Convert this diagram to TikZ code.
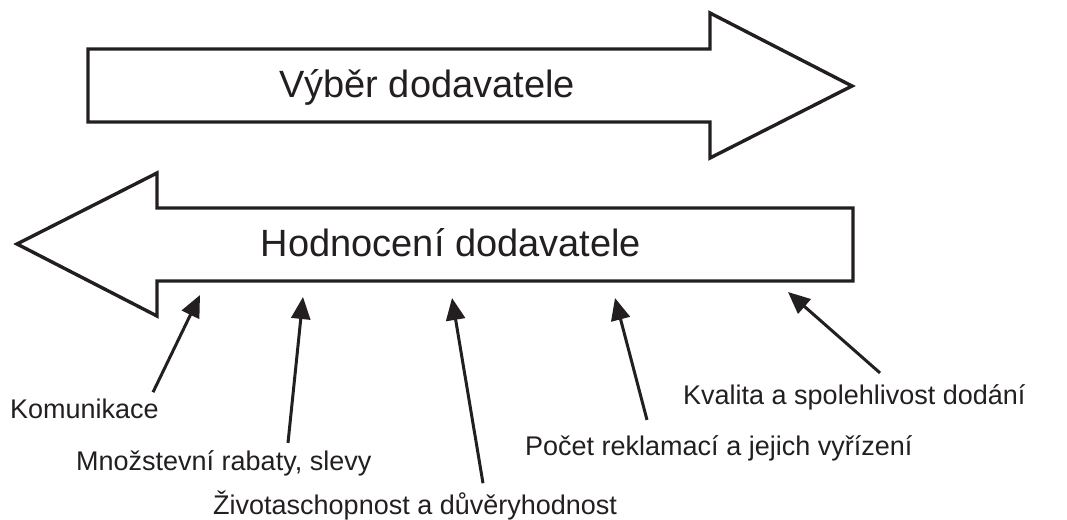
\documentclass[tikz,border=0pt]{standalone}
\usepackage{fontspec}
\setmainfont{Liberation Sans}
\usepackage{xcolor}
\usepackage{tikz}
\usetikzlibrary{arrows.meta,calc,positioning}
\definecolor{ink}{HTML}{231F20}

\begin{document}
\begin{tikzpicture}[x=1pt,y=-1pt,
    bigarrow/.style={draw=ink,line width=3.4pt,fill=white,line join=miter},
    title/.style={text=ink,font=\fontsize{38}{44}\selectfont,inner sep=0pt,anchor=base},
    factor/.style={text=ink,font=\fontsize{27}{32}\selectfont,inner sep=0pt,anchor=base west},
    pointer/.style={draw=ink,line width=3pt,-{Triangle[length=22pt,width=19pt]}}]
            \useasboundingbox (0,0) rectangle (1067,519);

            % Selection arrow
            \draw[bigarrow] (88,49) -- (710,49) -- (710,13) -- (852,86) -- (710,158) -- (710,122) -- (88,122) -- cycle;
            \node[title] (vyber) at (427,97) {Výběr dodavatele};

            % Evaluation arrow
            \draw[bigarrow] (853,208) -- (157,208) -- (157,173) -- (17,244) -- (157,316) -- (157,281) -- (853,281) -- cycle;
            \node[title] (hodn) at (451,256) {Hodnocení dodavatele};

            % Criteria
            \node[factor] (kom) at (10,418) {Komunikace};
            \node[factor] (mno) at (76,470) {Množstevní rabaty, slevy};
            \node[factor] (ziv) at (213,514) {Životaschopnost a důvěryhodnost};
            \node[factor] (poc) at (525,455) {Počet reklamací a jejich vyřízení};
            \node[factor] (kva) at (683,404) {Kvalita a spolehlivost dodání};

            \coordinate (t1) at (200,295);
            \coordinate (t2) at (303,297);
            \coordinate (t3) at (452,298);
            \coordinate (t4) at (615,298);
            \coordinate (t5) at (788,292);

            \draw[pointer] ([shift={(143,-6)}]kom.north west) -- (t1);
            \draw[pointer] ([shift={(212,-7)}]mno.north west) -- (t2);
            \draw[pointer] ([shift={(270,-7)}]ziv.north west) -- (t3);
            \draw[pointer] ([shift={(122,-15)}]poc.north west) -- (t4);
            \draw[pointer] ([shift={(197,-11)}]kva.north west) -- (t5);
        \end{tikzpicture}
\end{document}
